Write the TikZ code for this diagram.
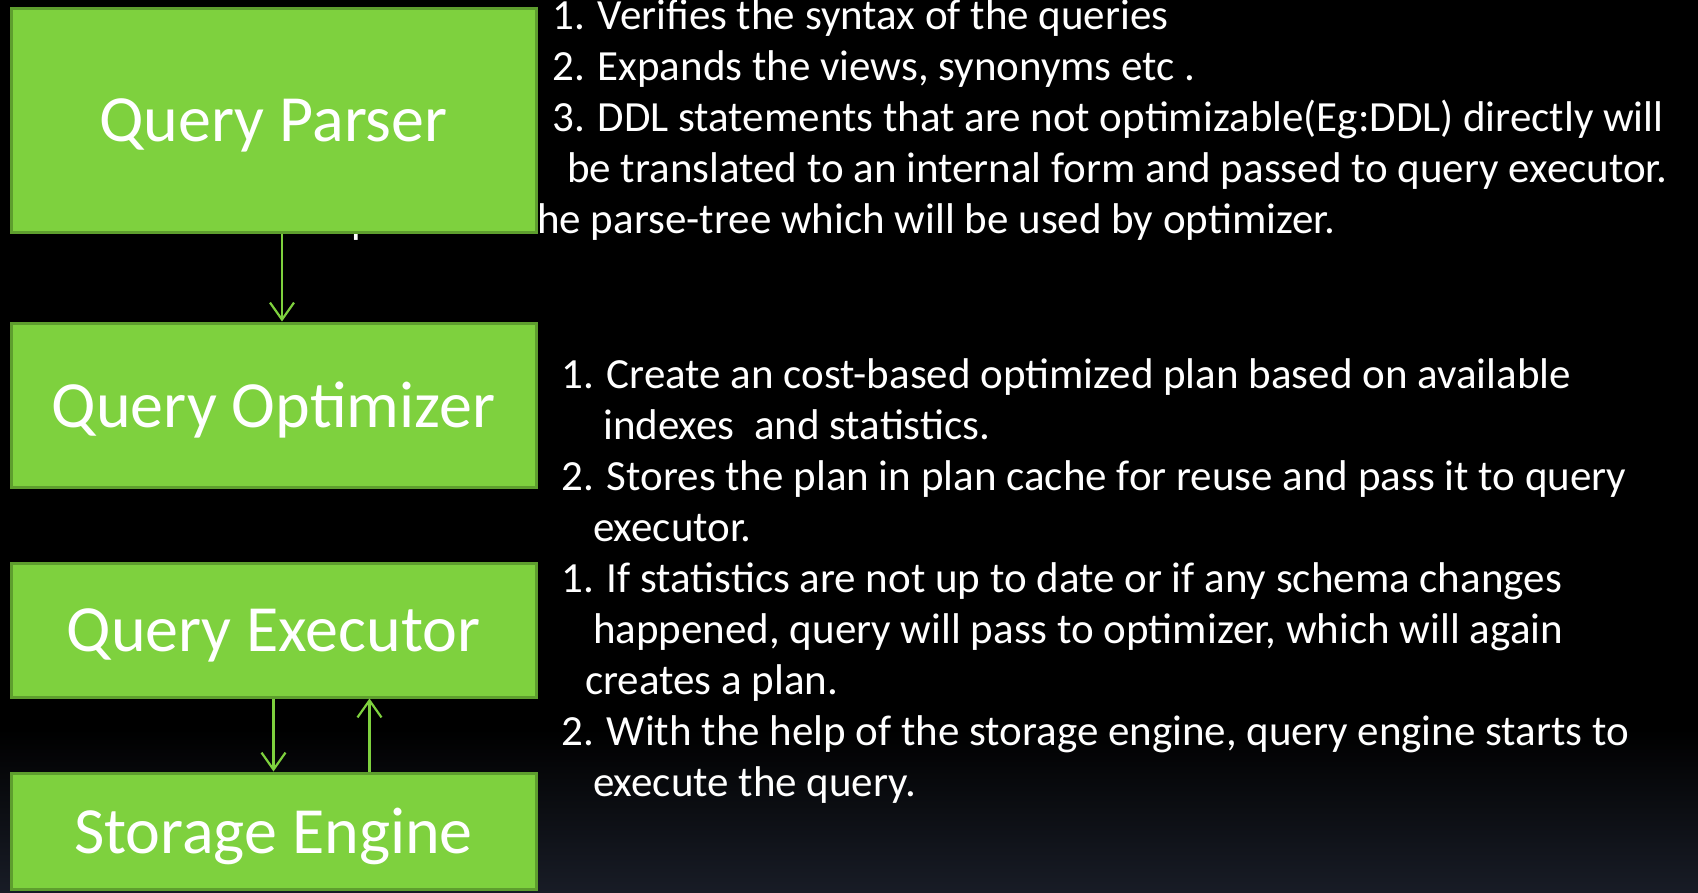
\documentclass[tikz,border=0pt]{standalone}
\usepackage{fontspec}
\setmainfont{Carlito}
\usetikzlibrary{arrows.meta}
\definecolor{boxgreen}{RGB}{126,209,62}
\definecolor{boxedge}{RGB}{94,158,46}
\definecolor{bgbottom}{RGB}{24,28,38}
\tikzset{
  stage/.style={draw=boxedge, line width=3pt, fill=boxgreen, text=white,
    minimum width=525pt, font=\fontsize{66}{74}\selectfont, inner sep=0pt},
  stagelabel/.style={text=white, font=\fontsize{66}{74}\selectfont, inner sep=0pt},
  desc/.style={anchor=base west, text=white, font=\fontsize{43}{49}\selectfont, inner sep=0pt},
  arr/.style={draw=boxgreen, line width=2.2pt, -{Straight Barb[length=17pt,width=24pt,line width=2.2pt]}}
}
\begin{document}
\begin{tikzpicture}[x=1pt,y=-1pt]
\useasboundingbox (0,0) rectangle (1698,892);
\clip (0,0) rectangle (1698,892);
\fill[black] (0,0) rectangle (1698,730);
\shade[top color=black, bottom color=bgbottom] (0,729) rectangle (1698,892);
% block 1 text (behind boxes)
\node[desc] (t11) at (552,29) {1. Verifies the syntax of the queries};
\node[desc] (t12) at (552,80) {2. Expands the views, synonyms etc .};
\node[desc] (t13) at (552,131) {3. DDL statements that are not optimizable(Eg:DDL) directly will};
\node[desc] (t14) at (567,182) {be translated to an internal form and passed to query executor.};
\node[desc] (t15) at (537,233) {\llap{4. produces t}he parse-tree which will be used by optimizer.};
% block 2
\node[desc] (t21) at (561,388) {1. Create an cost-based optimized plan based on available};
\node[desc] (t22) at (603,439) {indexes\ \ and statistics.};
\node[desc] (t23) at (561,490) {2. Stores the plan in plan cache for reuse and pass it to query};
\node[desc] (t24) at (593,541) {executor.};
% block 3
\node[desc] (t31) at (561,592) {1. If statistics are not up to date or if any schema changes};
\node[desc] (t32) at (593,643) {happened, query will pass to optimizer, which will again};
\node[desc] (t33) at (585,694) {creates a plan.};
\node[desc] (t34) at (561,745) {2. With the help of the storage engine, query engine starts to};
\node[desc] (t35) at (593,796) {execute the query.};
% boxes
\node[stage, minimum height=224pt] (parser) at (273.5,120) {};
\node[stage, minimum height=164pt] (optimizer) at (273.5,405) {};
\node[stage, minimum height=134pt] (executor) at (273.5,630) {};
\node[stage, minimum height=116pt] (storage) at (273.5,831) {};
\node[stagelabel] (lparser) at ([yshift=-5pt]parser.center) {Query Parser};
\node[stagelabel] (loptimizer) at ([yshift=-5pt]optimizer.center) {Query Optimizer};
\node[stagelabel] (lexecutor) at ([yshift=-5pt]executor.center) {Query Executor};
\node[stagelabel] (lstorage) at ([yshift=-5pt]storage.center) {Storage Engine};
% connectors
\draw[arr] ([xshift=8.5pt]parser.south) -- ([xshift=8.5pt]optimizer.north);
\draw[arr] (executor.south) -- (storage.north);
\draw[arr] ([xshift=96pt]storage.north) -- ([xshift=96pt]executor.south);
\end{tikzpicture}
\end{document}
